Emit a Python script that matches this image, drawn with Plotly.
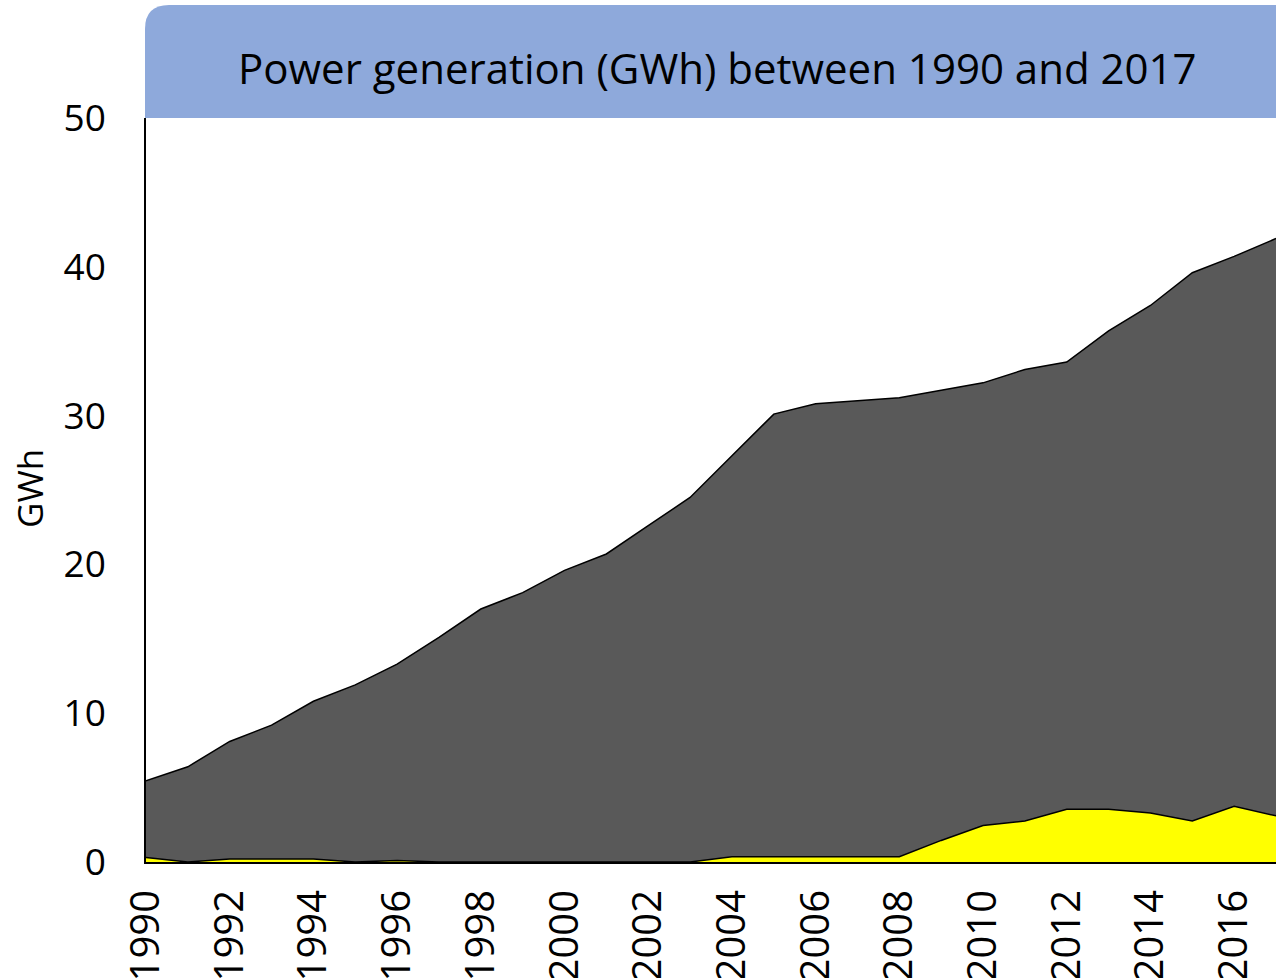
"""
Power generation stacked area chart, 1990-2017.
"""
import plotly.graph_objects as go

# Data
years = list(range(1990, 2018))
solar = [0.3, 0.0, 0.2, 0.2, 0.2, 0.0, 0.1, 0.0, 0.0, 0.0,
         0.0, 0.0, 0.0, 0.0, 0.35, 0.35, 0.35, 0.35, 0.35, 1.45,
         2.45, 2.75, 3.55, 3.55, 3.3, 2.75, 3.75, 3.1]
total = [5.45, 6.4, 8.1, 9.2, 10.8, 11.9, 13.3, 15.1, 17.0, 18.1,
         19.6, 20.7, 22.6, 24.5, 27.3, 30.1, 30.8, 31.0, 31.2, 31.7,
         32.2, 33.1, 33.6, 35.7, 37.4, 39.6, 40.7, 41.9]
y_ticks = [0, 10, 20, 30, 40, 50]
x_ticks = list(range(1990, 2017, 2))

FONT = "Open Sans"

fig = go.Figure()

# Bottom (yellow) layer
fig.add_trace(go.Scatter(
    x=years, y=solar,
    mode="lines",
    fill="tozeroy",
    fillcolor="#FFFF00",
    line=dict(color="black", width=1.5),
    name="Solar",
))

# Top (dark grey) layer, filled down to the yellow one
fig.add_trace(go.Scatter(
    x=years, y=total,
    mode="lines",
    fill="tonexty",
    fillcolor="#595959",
    line=dict(color="black", width=1.5),
    name="Total",
))

# Layout geometry (pixels)
W, H = 1276, 978
left, right, top, bottom = 146, 0, 5, 116
plot_w = W - left - right
plot_h = H - top - bottom
plot_top_px = 118
y_dom_top = (H - bottom - plot_top_px) / plot_h

# Title box with rounded top-left corner, in paper coords
rx = 24 / plot_w
ry = 24 / plot_h
x0, x1 = -1 / plot_w, 1.0
y0, y1 = y_dom_top, 1.0
box_path = (
    f"M {x0},{y0} L {x0},{y1 - ry} Q {x0},{y1} {x0 + rx},{y1} "
    f"L {x1},{y1} L {x1},{y0} Z"
)

fig.update_layout(
    width=W, height=H,
    margin=dict(l=left, r=right, t=top, b=bottom, autoexpand=False),
    paper_bgcolor="white",
    plot_bgcolor="white",
    showlegend=False,
    font=dict(family=FONT, color="black"),
    shapes=[dict(
        type="path", path=box_path,
        xref="paper", yref="paper",
        fillcolor="#8EA9DB", line=dict(width=0),
        layer="above",
    )],
    annotations=[
        dict(
            text="Power generation (GWh) between 1990 and 2017",
            xref="paper", yref="paper",
            x=(717 - left) / plot_w,
            y=(H - bottom - 67) / plot_h,
            xanchor="center", yanchor="middle",
            showarrow=False,
            font=dict(family=FONT, size=42, color="black"),
        ),
        dict(
            text="GWh",
            xref="paper", yref="paper",
            x=(29 - left) / plot_w,
            y=(H - bottom - 489) / plot_h,
            xanchor="center", yanchor="middle",
            textangle=-90,
            showarrow=False,
            font=dict(family=FONT, size=35, color="black"),
        ),
    ],
)

fig.update_xaxes(
    range=[1990, 2017],
    tickvals=x_ticks,
    ticktext=[str(t) for t in x_ticks],
    tickangle=-90,
    tickfont=dict(family=FONT, size=40, color="black"),
    ticklabelstandoff=10,
    showgrid=False,
    zeroline=False,
    showline=True,
    linecolor="black",
    linewidth=2,
    ticks="",
)

fig.update_yaxes(
    range=[0, 50],
    domain=[0, y_dom_top],
    tickvals=y_ticks,
    tickfont=dict(family=FONT, size=37, color="black"),
    ticklabelstandoff=31,
    showgrid=False,
    zeroline=False,
    showline=True,
    linecolor="black",
    linewidth=1.5,
    ticks="",
)

# drop the default page margin so the figure sits at the window's corner
fig.write_html(
    "out.html",
    config={"displayModeBar": False},
    post_script="document.body.style.margin='0px';",
)
